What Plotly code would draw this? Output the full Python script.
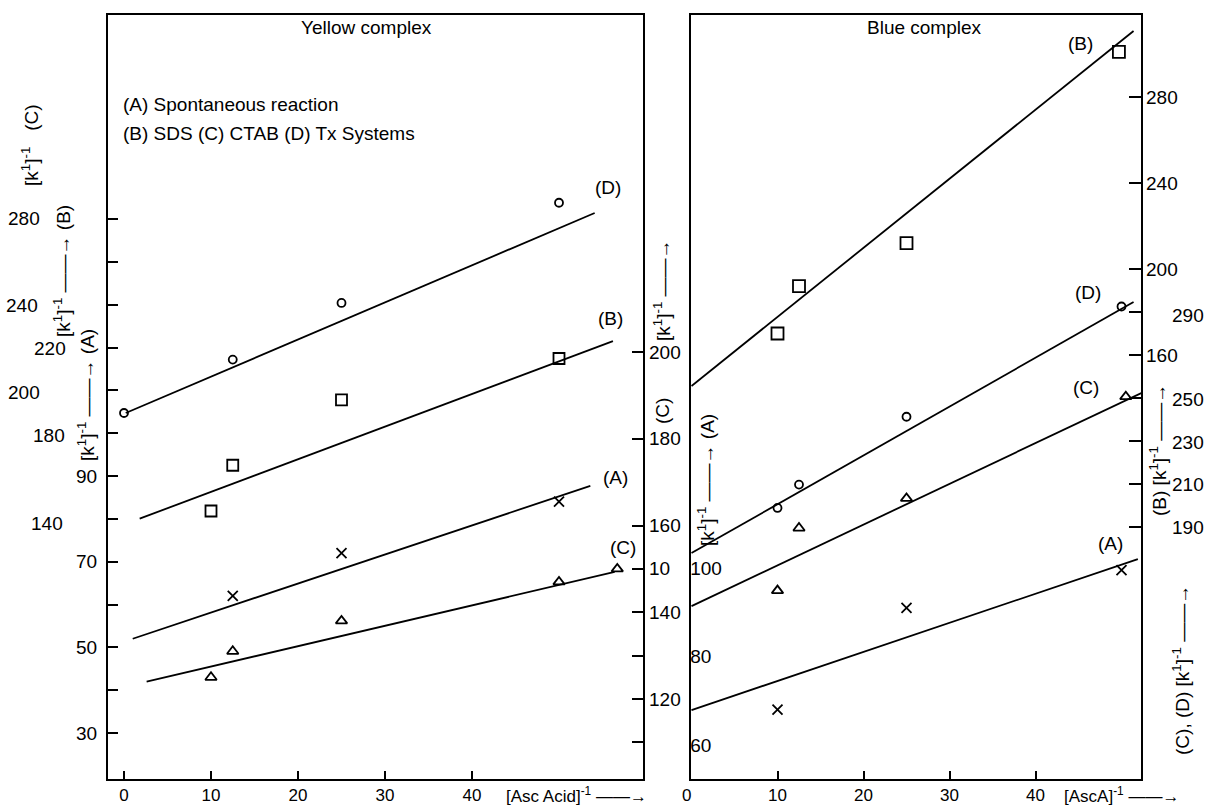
import plotly.graph_objects as go

# ---------------- data ----------------
# Yellow complex (left panel)
yc_A_x = [12.5, 25, 50]
yc_A_y = [62, 72, 84]
yc_B_x = [10, 12.5, 25, 50]
yc_B_y = [145.5, 166.5, 196.5, 215.5]
yc_C_x = [10, 12.5, 25, 50, 56.7]
yc_C_y = [125, 131, 138, 147, 150]
yc_D_x = [0, 12.5, 25, 50]
yc_D_y = [190.5, 215, 241, 287]
# fitted straight lines (end points)
yc_A_fit_x = [1.0, 53.6]
yc_A_fit_y = [52, 87.7]
yc_B_fit_x = [1.8, 56.2]
yc_B_fit_y = [142, 223.5]
yc_C_fit_x = [2.6, 56.4]
yc_C_fit_y = [124, 149.3]
yc_D_fit_x = [0.2, 54.1]
yc_D_fit_y = [190.5, 282.3]

# Blue complex (right panel)
bc_A_x = [10, 25, 50]
bc_A_y = [68, 91, 99.5]
bc_B_x = [10, 12.5, 25, 49.7]
bc_B_y = [170, 192, 212, 301]
bc_C_x = [10, 12.5, 25, 50.5]
bc_C_y = [160, 189.5, 203.5, 251.5]
bc_D_x = [10, 12.5, 25, 50]
bc_D_y = [199, 210, 242, 294]
bc_A_fit_x = [0, 51.9]
bc_A_fit_y = [67.9, 102]
bc_B_fit_x = [0, 51.4]
bc_B_fit_y = [145.6, 310.7]
bc_C_fit_x = [0, 52.3]
bc_C_fit_y = [152.7, 253.2]
bc_D_fit_x = [0, 51.4]
bc_D_fit_y = [177.7, 296.1]

# ticks and tick labels
x_ticks = [0, 10, 20, 30, 40]
xr_ticks = [10, 20, 30, 40]
yl_A_ticks = [30, 40, 50, 60, 70, 80, 90, 100, 110, 120, 130, 140, 150]
yl_A_labels = [30, 50, 70, 90]
yl_B_labels = [140, 180, 200, 220, 240, 280]
yl_C_ticks = [110, 120, 130, 140, 150, 160, 180, 200]
yl_C_labels = [120, 140, 150, 160, 180, 200]
yl_C_text = ["120", "140", "10", "160", "180", "200"]
yr_A_labels = [60, 80, 100]
yr_B_ticks = [80, 100, 120, 140, 160, 180, 200, 240, 280]
yr_B_labels = [160, 200, 240, 280]
yr_CD_labels = [190, 210, 230, 250, 290]

# ---------------- layout helpers ----------------
W, H = 1208, 806
FONT = "Liberation Sans, Arial, Helvetica, sans-serif"
TOP, BOT = 15, 779
LX0, LX1, RX0, RX1 = 108, 643, 691, 1141


def px(x):
    return x / W


def py(y):
    return 1 - y / H


def rng(v1, p1, v2, p2, pa, pb):
    s = (p2 - p1) / (v2 - v1)
    return [v1 + (pa - p1) / s, v1 + (pb - p1) / s]


r_xl = rng(0, 124, 40, 472, LX0, LX1)
r_xr = rng(0, 691.5, 40, 1035.5, RX0, RX1)
r_Al = rng(30, 733, 90, 476, BOT, TOP)
r_Bl = rng(140, 523, 280, 218, BOT, TOP)
r_Cl = rng(200, 352, 120, 699, BOT, TOP)
r_Ar = rng(100, 568, 60, 745, BOT, TOP)
r_Br = rng(280, 97, 160, 355, BOT, TOP)
r_CDr = rng(290, 315, 190, 527, BOT, TOP)

ydom = [py(BOT), py(TOP)]

fig = go.Figure()


def pts(x, y, xa, ya, sym, size):
    fig.add_trace(go.Scatter(x=x, y=y, xaxis=xa, yaxis=ya, mode="markers",
                             marker=dict(symbol=sym, size=size, color="black",
                                         line=dict(color="black", width=1.8)),
                             showlegend=False, hoverinfo="skip"))


def fit(x, y, xa, ya):
    fig.add_trace(go.Scatter(x=x, y=y, xaxis=xa, yaxis=ya, mode="lines",
                             line=dict(color="black", width=1.8),
                             showlegend=False, hoverinfo="skip"))


# left panel
fit(yc_A_fit_x, yc_A_fit_y, "x", "y")
fit(yc_B_fit_x, yc_B_fit_y, "x", "y2")
fit(yc_C_fit_x, yc_C_fit_y, "x", "y3")
fit(yc_D_fit_x, yc_D_fit_y, "x", "y2")
pts(yc_A_x, yc_A_y, "x", "y", "x-thin-open", 10)
pts(yc_B_x, yc_B_y, "x", "y2", "square-open", 11)
pts(yc_C_x, yc_C_y, "x", "y3", "triangle-up-open", 10)
pts(yc_D_x, yc_D_y, "x", "y2", "circle-open", 8)

# right panel
fit(bc_A_fit_x, bc_A_fit_y, "x2", "y4")
fit(bc_B_fit_x, bc_B_fit_y, "x2", "y5")
fit(bc_C_fit_x, bc_C_fit_y, "x2", "y6")
fit(bc_D_fit_x, bc_D_fit_y, "x2", "y6")
pts(bc_A_x, bc_A_y, "x2", "y4", "x-thin-open", 10)
pts(bc_B_x, bc_B_y, "x2", "y5", "square-open", 12)
pts(bc_C_x, bc_C_y, "x2", "y6", "triangle-up-open", 10)
pts(bc_D_x, bc_D_y, "x2", "y6", "circle-open", 8)

axbase = dict(showgrid=False, zeroline=False, showline=True, linecolor="black",
              linewidth=2, automargin=False, tickcolor="black", tickwidth=1.5,
              tickfont=dict(family=FONT, size=19, color="black"))
xfont = dict(family=FONT, size=17, color="black")

fig.update_layout(
    width=W, height=H, margin=dict(l=0, r=0, t=0, b=0),
    template="none", plot_bgcolor="white", paper_bgcolor="white",
    showlegend=False, font=dict(family=FONT, size=19, color="black"),
    xaxis=dict(axbase, domain=[px(LX0), px(LX1)], range=r_xl, anchor="y",
               mirror=True, ticks="inside", ticklen=8, tickvals=x_ticks,
               ticktext=[str(v) for v in x_ticks], ticklabelstandoff=0,
               tickfont=xfont),
    yaxis=dict(axbase, domain=ydom, range=r_Al, anchor="x", ticks="inside",
               ticklen=10, tickvals=yl_A_ticks, showticklabels=False),
    yaxis2=dict(range=r_Bl, overlaying="y", anchor="x", visible=False),
    yaxis3=dict(axbase, range=r_Cl, overlaying="y", anchor="x", side="right",
                ticks="inside", ticklen=11, tickvals=yl_C_ticks,
                showticklabels=False),
    xaxis3=dict(axbase, domain=[px(LX1), px(RX0)], range=[0, 1], anchor="y",
                mirror=True, ticks="", showticklabels=False),
    xaxis2=dict(axbase, domain=[px(RX0), px(RX1)], range=r_xr, anchor="y4",
                mirror=True, ticks="inside", ticklen=8, tickvals=xr_ticks,
                ticktext=[str(v) for v in xr_ticks], ticklabelstandoff=0,
                tickfont=xfont),
    yaxis4=dict(axbase, domain=ydom, range=r_Ar, anchor="x2", ticks="",
                tickvals=yr_A_labels, ticktext=[str(v) for v in yr_A_labels],
                ticklabelposition="inside"),
    yaxis5=dict(axbase, range=r_Br, overlaying="y4", anchor="x2", side="right",
                ticks="inside", ticklen=12, tickvals=yr_B_ticks,
                showticklabels=False),
    yaxis6=dict(range=r_CDr, overlaying="y4", anchor="x2", visible=False),
)

ann = []
TF = dict(family=FONT, size=19, color="black")


def txt(text, x, y, xanchor="center", size=19, angle=0, yanchor="middle"):
    ann.append(dict(text=text, x=px(x), y=py(y), xref="paper", yref="paper",
                    xanchor=xanchor, yanchor=yanchor, showarrow=False,
                    textangle=angle, font=dict(family=FONT, size=size, color="black")))


def scale_label(text, v, yref, x, xanchor):
    ann.append(dict(text=text, x=px(x), y=v, xref="paper", yref=yref,
                    xanchor=xanchor, yanchor="middle", showarrow=False, font=TF))


# tick labels, each drawn on its own scale
for v in yl_A_labels:
    scale_label(str(v), v, "y", 99, "right")
b_left_right_edge = {140: 65, 180: 67, 200: 42, 220: 68, 240: 40, 280: 42}
for v in yl_B_labels:
    scale_label(str(v), v, "y2", b_left_right_edge[v], "right")
for v, t in zip(yl_C_labels, yl_C_text):
    scale_label(t, v, "y3", 647, "left")
for v in yr_B_labels:
    scale_label(str(v), v, "y5", 1144, "left")
for v in yr_CD_labels:
    scale_label(str(v), v, "y6", 1170, "left")
# the "0" of the right panel's x axis
ann.append(dict(text="0", x=0, y=py(795), xref="x2", yref="paper", xanchor="center",
                yanchor="middle", xshift=-5, showarrow=False,
                font=dict(family=FONT, size=17, color="black")))

K1 = "[k<sup>1</sup>]<sup>-1</sup>"
ARW = "\u2014\u2014\u2192"
txt(K1 + "   (C)", 30, 145, angle=-90)
txt(K1 + " " + ARW + " (B)", 62, 271, angle=-90)
txt(K1 + " " + ARW + " (A)", 86, 395, angle=-90)
txt(K1 + " " + ARW, 662, 290, angle=-90)
txt("(C)", 662, 411, angle=-90)
txt(K1 + " " + ARW + " (A)", 706, 480, angle=-90)
txt("(B) " + K1 + " " + ARW, 1158, 450, angle=-90)
txt("(C), (D) " + K1 + " " + ARW, 1181, 670, angle=-90)

txt("Yellow complex", 299, 27, xanchor="left", size=19)
txt("Blue complex", 865, 27, xanchor="left", size=19)
txt("(A) Spontaneous reaction", 121, 104, xanchor="left", size=19)
txt("(B) SDS (C) CTAB (D) Tx Systems", 121, 133, xanchor="left", size=19)

txt("[Asc Acid]<sup>-1</sup> " + ARW, 504, 795, xanchor="left", size=17)
txt("[AscA]<sup>-1</sup> " + ARW, 1062, 795, xanchor="left", size=17)

# series labels
txt("(D)", 608, 187)
txt("(B)", 610, 318)
txt("(A)", 615, 477)
txt("(C)", 623, 547)
txt("(B)", 1080, 43)
txt("(D)", 1088, 292)
txt("(C)", 1086, 387)
txt("(A)", 1110, 543)

fig.update_layout(annotations=ann)
fig.write_html("out.html")
